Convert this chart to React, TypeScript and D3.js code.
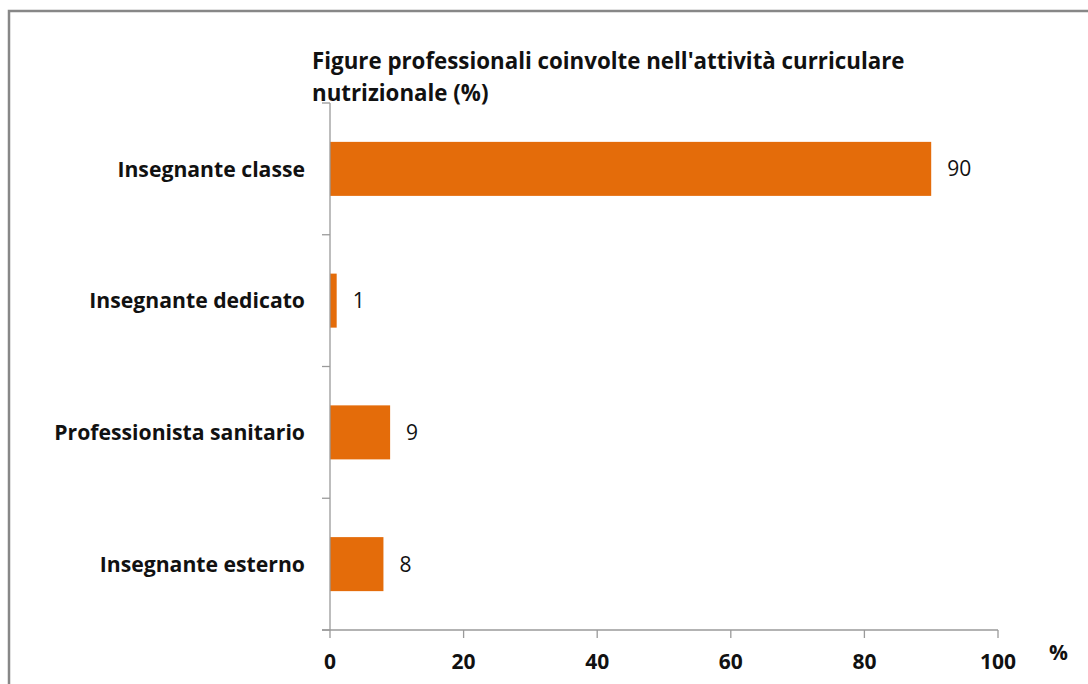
import React, { useEffect, useRef } from 'react';
import * as d3 from 'd3';

const categories = [
  'Insegnante classe',
  'Insegnante dedicato',
  'Professionista sanitario',
  'Insegnante esterno'
];
const values = [90, 1, 9, 8];
const xTicks = [0, 20, 40, 60, 80, 100];
const titleLines = [
  "Figure professionali coinvolte nell'attività curriculare",
  'nutrizionale (%)'
];

const App: React.FC = () => {
  const svgRef = useRef<SVGSVGElement>(null);

  useEffect(() => {
    if (!svgRef.current) return;
    const width = 1088;
    const height = 684;
    const font = '"Open Sans", sans-serif';

    const svg = d3.select(svgRef.current);
    svg.selectAll('*').remove();
    svg.attr('width', width).attr('height', height).style('font-family', font);

    // frame
    svg.append('rect')
      .attr('x', 9).attr('y', 11)
      .attr('width', width + 20).attr('height', height + 20)
      .attr('fill', '#fff')
      .attr('stroke', '#878787').attr('stroke-width', 2.5);

    const left = 330;
    const right = 998;
    const top = 103;
    const bottom = 630;

    const x = d3.scaleLinear().domain([0, 100]).range([left, right]);
    const y = d3.scaleBand<string>()
      .domain(categories)
      .range([top, bottom])
      .paddingInner(0.59)
      .paddingOuter(0.295);

    const axisColor = '#9a9a9a';

    // title
    svg.append('g')
      .selectAll('text')
      .data(titleLines)
      .join('text')
      .attr('x', 312)
      .attr('y', (_, i) => 69 + i * 32)
      .attr('font-size', 22.3)
      .attr('font-weight', 700)
      .attr('fill', '#111')
      .text(d => d);

    // bars
    svg.append('g')
      .selectAll('rect')
      .data(values)
      .join('rect')
      .attr('x', x(0))
      .attr('y', (_, i) => y(categories[i])!)
      .attr('width', d => x(d) - x(0))
      .attr('height', y.bandwidth())
      .attr('fill', '#E46C0A');

    // value labels
    svg.append('g')
      .selectAll('text')
      .data(values)
      .join('text')
      .attr('x', d => x(d) + 16)
      .attr('y', (_, i) => y(categories[i])! + y.bandwidth() / 2)
      .attr('dy', '0.36em')
      .attr('font-size', 21)
      .attr('fill', '#111')
      .text(d => d);

    // y axis
    const step = (bottom - top) / categories.length;
    const gy = svg.append('g');
    gy.append('line')
      .attr('x1', left).attr('x2', left)
      .attr('y1', top).attr('y2', bottom)
      .attr('stroke', axisColor).attr('stroke-width', 1.3);
    gy.selectAll('line.tick')
      .data(d3.range(categories.length + 1))
      .join('line')
      .attr('class', 'tick')
      .attr('x1', left - 8).attr('x2', left)
      .attr('y1', i => top + i * step).attr('y2', i => top + i * step)
      .attr('stroke', axisColor).attr('stroke-width', 1.3);
    gy.selectAll('text')
      .data(categories)
      .join('text')
      .attr('x', 305)
      .attr('y', d => y(d)! + y.bandwidth() / 2)
      .attr('dy', '0.36em')
      .attr('text-anchor', 'end')
      .attr('font-size', 21.2)
      .attr('font-weight', 700)
      .attr('fill', '#111')
      .text(d => d);

    // x axis
    const gx = svg.append('g');
    gx.append('line')
      .attr('x1', left - 8).attr('x2', right)
      .attr('y1', bottom).attr('y2', bottom)
      .attr('stroke', axisColor).attr('stroke-width', 1.3);
    gx.selectAll('line.tick')
      .data(xTicks)
      .join('line')
      .attr('class', 'tick')
      .attr('x1', d => x(d)).attr('x2', d => x(d))
      .attr('y1', bottom).attr('y2', bottom + 8)
      .attr('stroke', axisColor).attr('stroke-width', 1.3);
    gx.selectAll('text')
      .data(xTicks)
      .join('text')
      .attr('x', d => x(d))
      .attr('y', 669)
      .attr('text-anchor', 'middle')
      .attr('font-size', 21)
      .attr('font-weight', 700)
      .attr('fill', '#111')
      .text(d => d);

    svg.append('text')
      .attr('x', 1049).attr('y', 660)
      .attr('font-size', 21)
      .attr('font-weight', 700)
      .attr('fill', '#111')
      .text('%');
  }, []);

  return (
    <svg
      ref={svgRef}
      style={{ position: 'absolute', left: 0, top: 0, background: '#fff' }}
    />
  );
};

export default App;
